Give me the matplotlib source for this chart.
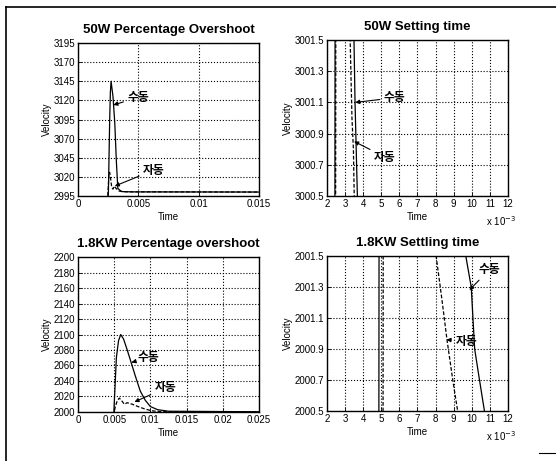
import matplotlib
matplotlib.use("Agg")
import matplotlib.pyplot as plt
from matplotlib.lines import Line2D
from matplotlib.ticker import FuncFormatter

plt.rcParams['font.family'] = ['Liberation Sans', 'DejaVu Sans']

# 50W percentage overshoot
t1_manual = [0, 0.00248, 0.00252, 0.00262, 0.00268, 0.00274, 0.00290, 0.00305, 0.00318, 0.00330, 0.0036, 0.0045, 0.015]
v1_manual = [2990, 2990, 3000, 3090, 3130, 3145, 3125, 3090, 3040, 3005, 3000.8, 3000.4, 3000.2]
t1_auto = [0, 0.00245, 0.00250, 0.00256, 0.00262, 0.00270, 0.00280, 0.00290, 0.00300, 0.00315, 0.0034, 0.004, 0.015]
v1_auto = [2990, 2990, 3005, 3022, 3026, 3018, 3006, 3004, 3008, 3005, 3001.5, 3000.5, 3000.2]

# 50W settling time
t2_manual = [0.0020, 0.00243, 0.00245, 0.00342, 0.00355, 0.00368, 0.0039]
v2_manual = [2999, 2999.5, 3002, 3002, 3001.1, 3000.5, 3000.2]
t2_auto = [0.0020, 0.00247, 0.00249, 0.00326, 0.00338, 0.00346, 0.00352]
v2_auto = [2999, 2999.5, 3002, 3001.6, 3001.0, 3000.8, 3000.4]

# 1.8KW percentage overshoot
t3_manual = [0, 0.0049, 0.0051, 0.0053, 0.0056, 0.0059, 0.0063, 0.0068, 0.0072, 0.0079, 0.0086, 0.0093, 0.0100, 0.0110, 0.0125, 0.025]
v3_manual = [1990, 1990, 2030, 2070, 2092, 2100, 2094, 2080, 2068, 2047, 2027, 2015, 2007, 2003, 2001, 2000.3]
t3_auto = [0, 0.0049, 0.0051, 0.0054, 0.0057, 0.0060, 0.0064, 0.0068, 0.0075, 0.0083, 0.0092, 0.0102, 0.0115, 0.025]
v3_auto = [1990, 1990, 2005, 2014, 2018, 2015, 2010, 2012, 2010, 2007, 2004, 2001.5, 2000.5, 2000.2]

# 1.8KW settling time
t4_manual = [0.0020, 0.00486, 0.00488, 0.00967, 0.00997, 0.01016, 0.01040, 0.01070, 0.0110]
v4_manual = [1999, 1999.5, 2002, 2001.5, 2001.3, 2000.9, 2000.72, 2000.5, 2000.3]
t4_auto = [0.0020, 0.00509, 0.00511, 0.00803, 0.00835, 0.00863, 0.00895, 0.00922, 0.0095]
v4_auto = [1999, 1999.5, 2002, 2001.5, 2001.22, 2000.96, 2000.7, 2000.5, 2000.3]

titles = ["50W Percentage Overshoot", "50W Setting time",
          "1.8KW Percentage overshoot", "1.8KW Settling time"]
xlims = [(0, 0.015), (0.002, 0.012), (0, 0.025), (0.002, 0.012)]
ylims = [(2995, 3195), (3000.5, 3001.5), (2000, 2200), (2000.5, 2001.5)]
xticks = [[0, 0.005, 0.01, 0.015],
          [0.002, 0.003, 0.004, 0.005, 0.006, 0.007, 0.008, 0.009, 0.010, 0.011, 0.012],
          [0, 0.005, 0.01, 0.015, 0.02, 0.025],
          [0.002, 0.003, 0.004, 0.005, 0.006, 0.007, 0.008, 0.009, 0.010, 0.011, 0.012]]
xticklabels = [["0", "0.005", "0.01", "0.015"], None,
               ["0", "0.005", "0.01", "0.015", "0.02", "0.025"], None]
yticks = [[2995, 3020, 3045, 3070, 3095, 3120, 3145, 3170, 3195],
          [3000.5, 3000.7, 3000.9, 3001.1, 3001.3, 3001.5],
          [2000, 2020, 2040, 2060, 2080, 2100, 2120, 2140, 2160, 2180, 2200],
          [2000.5, 2000.7, 2000.9, 2001.1, 2001.3, 2001.5]]
yticklabels = [["2995", "3020", "3045", "3070", "3095", "3120", "3145", "3170", "3195"],
               ["3000.5", "3000.7", "3000.9", "3001.1", "3001.3", "3001.5"],
               ["2000", "2020", "2040", "2060", "2080", "2100", "2120", "2140", "2160", "2180", "2200"],
               ["2000.5", "2000.7", "2000.9", "2001.1", "2001.3", "2001.5"]]
series = [(t1_manual, v1_manual, t1_auto, v1_auto),
          (t2_manual, v2_manual, t2_auto, v2_auto),
          (t3_manual, v3_manual, t3_auto, v3_auto),
          (t4_manual, v4_manual, t4_auto, v4_auto)]

# (text pos, arrow tip) for 수동 / 자동
notes_manual = [((0.0041, 3124), (0.00293, 3114)),
                ((0.00515, 3001.13), (0.00356, 3001.1)),
                ((0.0082, 2070), (0.0074, 2064)),
                ((0.01035, 2001.41), (0.00987, 2001.28))]
notes_auto = [((0.0054, 3029), (0.00305, 3008)),
              ((0.0046, 3000.75), (0.0035, 3000.85)),
              ((0.0106, 2031), (0.0078, 2013)),
              ((0.0091, 2000.95), (0.0086, 2000.96))]

positions = [[0.1403, 0.5748, 0.3255, 0.3319],
             [0.5881, 0.5748, 0.3255, 0.3384],
             [0.1403, 0.1063, 0.3255, 0.3362],
             [0.5881, 0.1085, 0.3255, 0.3362]]

fig = plt.figure(figsize=(5.56, 4.61), dpi=100)

for i in range(4):
    ax = fig.add_axes(positions[i])
    tm, vm, ta, va = series[i]
    ax.plot(tm, vm, color='black', lw=0.9)
    ax.plot(ta, va, color='black', lw=0.9, ls='--', dashes=(3, 1.5))
    ax.set_xlim(*xlims[i])
    ax.set_ylim(*ylims[i])
    ax.set_xticks(xticks[i])
    if xticklabels[i] is not None:
        ax.set_xticklabels(xticklabels[i])
    else:
        ax.xaxis.set_major_formatter(FuncFormatter(lambda x, p: f"{x * 1e3:.0f}"))
        ax.text(0.88, -0.115, r"x 10$^{-3}$", transform=ax.transAxes,
                fontsize=7, ha='left', va='top')
    ax.set_yticks(yticks[i])
    ax.set_yticklabels(yticklabels[i])
    ax.tick_params(labelsize=7, direction='in', length=3, width=0.6, pad=2)
    ax.grid(True, color='black', ls=':', lw=0.8)
    for sp in ax.spines.values():
        sp.set_linewidth(1.0)
        sp.set_color('black')
    ax.set_title(titles[i], fontsize=9.5, fontweight='bold', pad=7)
    ax.set_xlabel("Time", fontsize=7, labelpad=2)
    ax.set_ylabel("Velocity", fontsize=7, labelpad=1)

    (txt, tip) = notes_manual[i]
    ax.annotate("수동", xy=tip, xytext=txt, fontsize=8.5, fontweight='bold',
                family=['Noto Sans CJK KR', 'DejaVu Sans'], va='center', ha='left',
                arrowprops=dict(arrowstyle='-|>', color='black', lw=0.8, mutation_scale=6,
                                shrinkA=1, shrinkB=0))
    (txt, tip) = notes_auto[i]
    ax.annotate("자동", xy=tip, xytext=txt, fontsize=8.5, fontweight='bold',
                family=['Noto Sans CJK KR', 'DejaVu Sans'], va='center', ha='left',
                arrowprops=dict(arrowstyle='-|>', color='black', lw=0.8, mutation_scale=6,
                                shrinkA=1, shrinkB=0))

# scanned page frame
fig.add_artist(Line2D([0.011, 1.0], [0.985, 0.985], color='black', lw=1.2))
fig.add_artist(Line2D([0.011, 0.011], [0.985, 0.0], color='black', lw=1.2))
fig.add_artist(Line2D([0.97, 1.0], [0.017, 0.017], color='black', lw=0.8))

fig.savefig("out.png", dpi=100)
